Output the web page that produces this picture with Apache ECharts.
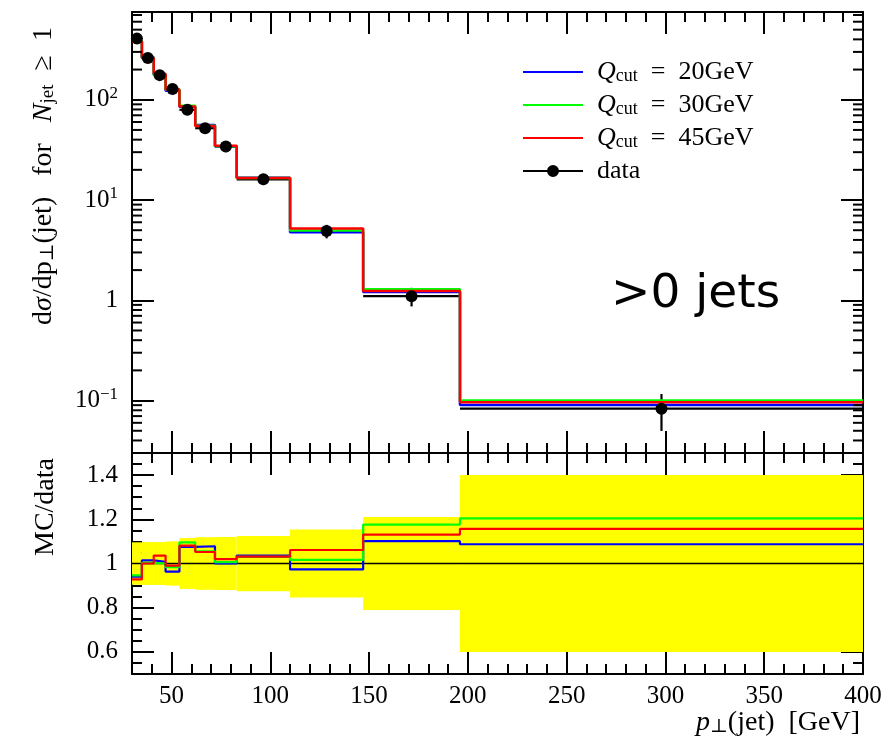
<!DOCTYPE html>
<html>
<head>
<meta charset="utf-8">
<title>pT(jet) for Njet >= 1</title>
<script src="https://cdn.jsdelivr.net/npm/echarts@6.0.0/dist/echarts.min.js"></script>
<style>
html, body { margin: 0; padding: 0; background: #fff; }
#chart { width: 894px; height: 747px; }
</style>
</head>
<body>
<div id="chart"></div>
<script>
// bin edges, pT [GeV]
const binEdges = [30, 35, 41, 47, 54, 62, 72, 83, 110, 147, 196, 400];

// data points and their relative uncertainty (yellow band)
const dataVals = [407, 261, 176, 128, 79.4, 52, 34.1, 16.1, 4.9, 1.10, 0.083];
const dataRelErr = [0.096, 0.097, 0.097, 0.10, 0.115, 0.119, 0.12, 0.125, 0.154, 0.21, 0.40];

// MC predictions, top panel
const mc20 = [383, 265, 177.5, 123, 85.3, 56, 34.1, 16.7, 4.77, 1.21, 0.0902];
const mc30 = [385, 262, 176, 126, 87, 54.9, 34.3, 16.6, 4.98, 1.29, 0.0999];
const mc45 = [378, 261, 182, 126.7, 85.8, 54.7, 34.8, 16.6, 5.2, 1.24, 0.096];

// MC/data, bottom panel
const ratio20 = [0.94, 1.014, 1.008, 0.963, 1.075, 1.078, 1.0, 1.036, 0.973, 1.101, 1.087];
const ratio30 = [0.946, 1.003, 1.0, 0.984, 1.096, 1.055, 1.006, 1.03, 1.016, 1.176, 1.204];
const ratio45 = [0.928, 1.0, 1.036, 0.99, 1.081, 1.052, 1.02, 1.031, 1.061, 1.131, 1.157];

const seriesNames = ['Q20', 'Q30', 'Q45'];
const legendLabels = {
    Q20: '{q|Q}{s|cut}{t|  =  20GeV}',
    Q30: '{q|Q}{s|cut}{t|  =  30GeV}',
    Q45: '{q|Q}{s|cut}{t|  =  45GeV}',
    data: '{d|data}'
};
const colors = ['#0000ff', '#00ff00', '#ff0000'];

const X0 = 30, X1 = 400;
const YMIN = 0.03, YMAX = 750;
const RMIN = 0.5, RMAX = 1.5;
const serif = "'Liberation Serif', 'DejaVu Serif', serif";
const black = { color: '#000', width: 2 };

function stepData(vals) {
    return binEdges.map((e, i) => [e, vals[Math.min(i, vals.length - 1)]]);
}

function xAx(grid, pos, major, labels) {
    const ax = {
        type: 'value', gridIndex: grid, position: pos, min: X0, max: X1,
        axisLine: { show: major, onZero: false, lineStyle: black },
        splitLine: { show: false },
        axisTick: { show: true, inside: true, length: major ? 22 : 10, lineStyle: black },
        axisLabel: {
            show: labels, margin: 10, color: '#000', fontFamily: serif, fontSize: 25,
            formatter: v => (v % 50 === 0 ? String(v) : '')
        }
    };
    if (major) { ax.minInterval = 50; ax.maxInterval = 50; } else { ax.interval = 10; }
    return ax;
}

function rAx(pos, major, labels) {
    const ax = {
        type: 'value', gridIndex: 1, position: pos, min: RMIN, max: RMAX,
        axisLine: { show: major, onZero: false, lineStyle: black },
        splitLine: { show: false },
        axisTick: { show: true, inside: true, length: major ? 22 : 10, lineStyle: black },
        axisLabel: {
            show: labels, margin: 14, color: '#000', fontFamily: serif, fontSize: 25,
            formatter: v => (Math.abs(v * 5 - Math.round(v * 5)) < 1e-6 && v > RMIN && v < RMAX ? String(+v.toFixed(1)) : '')
        }
    };
    if (major) { ax.minInterval = 0.2; ax.maxInterval = 0.2; } else { ax.interval = 0.05; }
    return ax;
}

function logLabel(v) {
    const l = Math.log10(v);
    const e = Math.round(l);
    if (Math.abs(l - e) > 1e-6) return '';
    if (e === 0) return '{m|1}';
    return '{m|10}{e|' + (e < 0 ? '\u2212' : '') + Math.abs(e) + '}';
}

function logAx(pos, labels) {
    return {
        type: 'log', logBase: 10, gridIndex: 0, position: pos, min: YMIN, max: YMAX,
        axisLine: { show: true, onZero: false, lineStyle: black },
        splitLine: { show: false },
        axisTick: { show: true, inside: true, length: 22, lineStyle: black },
        axisLabel: {
            show: labels, margin: 14, color: '#000', formatter: logLabel,
            rich: {
                m: { fontFamily: serif, fontSize: 25, lineHeight: 30, color: '#000' },
                e: { fontFamily: serif, fontSize: 17, lineHeight: 16, verticalAlign: 'top', color: '#000' }
            }
        }
    };
}

// minor log ticks 2..9 x 10^n
const minorLog = [];
for (let e = -2; e <= 2; e++) {
    for (let m = 2; m <= 9; m++) {
        const v = m * Math.pow(10, e);
        if (v > YMIN && v < YMAX) minorLog.push([X0, v]);
    }
}

const chart = echarts.init(document.getElementById('chart'));

const mcTop = [mc20, mc30, mc45];
const mcRatio = [ratio20, ratio30, ratio45];

const series = [];

// yellow band in ratio panel
series.push({
    type: 'custom', xAxisIndex: 5, yAxisIndex: 3, z: 1, silent: true,
    data: dataRelErr.map((err, i) => [binEdges[i], binEdges[i + 1], err]),
    renderItem: (params, api) => {
        const p0 = api.coord([api.value(0), 1 + api.value(2)]);
        const p1 = api.coord([api.value(1), 1 - api.value(2)]);
        return {
            type: 'rect',
            shape: { x: p0[0], y: p0[1], width: p1[0] - p0[0], height: p1[1] - p0[1] },
            style: { fill: '#ffff00' }
        };
    }
});

// reference line at 1
series.push({
    type: 'line', xAxisIndex: 5, yAxisIndex: 3, z: 2, symbol: 'none', silent: true,
    data: [[X0, 1], [X1, 1]],
    lineStyle: { color: '#000', width: 1.6 }
});

// data x-error bars and y-error bars
series.push({
    type: 'custom', xAxisIndex: 1, yAxisIndex: 0, z: 2, silent: true,
    data: dataVals.map((v, i) => [binEdges[i], binEdges[i + 1], v, dataRelErr[i]]),
    renderItem: (params, api) => {
        const x0 = api.value(0), x1 = api.value(1), v = api.value(2), err = api.value(3);
        const a = api.coord([x0, v]);
        const b = api.coord([x1, v]);
        const hi = api.coord([(x0 + x1) / 2, v * (1 + err)]);
        const lo = api.coord([(x0 + x1) / 2, v * (1 - err)]);
        return {
            type: 'group',
            children: [
                { type: 'line', shape: { x1: a[0], y1: a[1], x2: b[0], y2: b[1] }, style: { stroke: '#000', lineWidth: 2.2 } },
                { type: 'line', shape: { x1: hi[0], y1: hi[1], x2: lo[0], y2: lo[1] }, style: { stroke: '#000', lineWidth: 2.2 } }
            ]
        };
    }
});

// minor log ticks on both sides of the top panel
series.push({
    type: 'custom', xAxisIndex: 1, yAxisIndex: 0, z: 10, silent: true,
    data: minorLog,
    renderItem: (params, api) => {
        const v = api.value(1);
        const l = api.coord([X0, v]);
        const r = api.coord([X1, v]);
        return {
            type: 'group',
            children: [
                { type: 'line', shape: { x1: l[0], y1: l[1], x2: l[0] + 10, y2: l[1] }, style: { stroke: '#000', lineWidth: 2 } },
                { type: 'line', shape: { x1: r[0], y1: r[1], x2: r[0] - 10, y2: r[1] }, style: { stroke: '#000', lineWidth: 2 } }
            ]
        };
    }
});

// MC histograms
for (let k = 0; k < 3; k++) {
    series.push({
        name: seriesNames[k], type: 'line', step: 'end', xAxisIndex: 1, yAxisIndex: 0, z: 3 + k,
        symbol: 'none', silent: true, data: stepData(mcTop[k]),
        itemStyle: { color: colors[k] },
        lineStyle: { color: colors[k], width: 2.5 }
    });
    series.push({
        name: seriesNames[k], type: 'line', step: 'end', xAxisIndex: 5, yAxisIndex: 3, z: 3 + k,
        symbol: 'none', silent: true, data: stepData(mcRatio[k]),
        itemStyle: { color: colors[k] },
        lineStyle: { color: colors[k], width: 2.2 }
    });
}

// data points
series.push({
    name: 'data', type: 'scatter', xAxisIndex: 1, yAxisIndex: 0, z: 8, silent: true,
    symbol: 'circle', symbolSize: 12,
    itemStyle: { color: '#000', opacity: 1 },
    data: dataVals.map((v, i) => [(binEdges[i] + binEdges[i + 1]) / 2, v])
});

// legend icons, 60x12 boxes (tiny corner marks fix the bounding box)
const lineIcon = 'path://M0,0 L0.01,0 L0,0.01 Z M0,5 L60,5 L60,7 L0,7 Z M60,12 L59.99,12 L60,11.99 Z';
const dataIcon = 'path://M0,5 L60,5 L60,7 L0,7 Z M30,0 A6,6 0 1 1 30,12 A6,6 0 1 1 30,0 Z';

chart.setOption({
    animation: false,
    backgroundColor: '#fff',
    grid: [
        { left: 132, top: 12, width: 731, height: 441 },
        { left: 132, top: 453, width: 731, height: 221 }
    ],
    xAxis: [
        xAx(0, 'bottom', false, false),
        xAx(0, 'bottom', true, false),
        xAx(0, 'top', false, false),
        xAx(0, 'top', true, false),
        xAx(1, 'bottom', false, false),
        xAx(1, 'bottom', true, true),
        xAx(1, 'top', false, false),
        xAx(1, 'top', true, false)
    ],
    yAxis: [
        logAx('left', true),
        logAx('right', false),
        rAx('left', false, false),
        rAx('left', true, true),
        rAx('right', false, false),
        rAx('right', true, false)
    ],
    legend: {
        orient: 'vertical', left: 523, top: 59, padding: 0,
        itemWidth: 60, itemHeight: 12, itemGap: 7,
        selectedMode: false,
        data: [
            { name: 'Q20', icon: lineIcon, itemStyle: { color: colors[0] } },
            { name: 'Q30', icon: lineIcon, itemStyle: { color: colors[1] } },
            { name: 'Q45', icon: lineIcon, itemStyle: { color: colors[2] } },
            { name: 'data', icon: dataIcon, itemStyle: { color: '#000' } }
        ],
        formatter: n => legendLabels[n],
        textStyle: {
            color: '#000', fontFamily: serif, fontSize: 26,
            rich: {
                q: { fontFamily: serif, fontSize: 26, fontStyle: 'italic', lineHeight: 26, padding: [0, 0, 0, 9], color: '#000' },
                s: { fontFamily: serif, fontSize: 18, lineHeight: 13, verticalAlign: 'bottom', color: '#000' },
                t: { fontFamily: serif, fontSize: 26, lineHeight: 26, color: '#000' },
                d: { fontFamily: serif, fontSize: 26, lineHeight: 26, padding: [0, 0, 0, 9], color: '#000' }
            }
        }
    },
    graphic: [
        {
            type: 'text', x: 44, y: 176, rotation: Math.PI / 2, silent: true,
            style: {
                text: '{r|d}{i|\u03c3}{r|/dp}{s|\u22a5}{r|(jet)   for   }{i|N}{s|jet}{r|  \u2265  1}',
                textAlign: 'center', align: 'center', textVerticalAlign: 'middle', verticalAlign: 'middle',
                rich: {
                    r: { fontFamily: serif, fontSize: 28, lineHeight: 28, fill: '#000', color: '#000' },
                    i: { fontFamily: serif, fontSize: 28, lineHeight: 28, fontStyle: 'italic', fill: '#000', color: '#000' },
                    s: { fontFamily: serif, fontSize: 19, lineHeight: 14, verticalAlign: 'bottom', fill: '#000', color: '#000' }
                }
            }
        },
        {
            type: 'text', x: 46, y: 507, rotation: Math.PI / 2, silent: true,
            style: {
                text: 'MC/data', fontFamily: serif, fontSize: 28, fill: '#000',
                textAlign: 'center', align: 'center', textVerticalAlign: 'middle', verticalAlign: 'middle'
            }
        },
        {
            type: 'text', x: 860, y: 723, silent: true,
            style: {
                text: '{i|p}{s|\u22a5}{r|(jet)  [GeV]}',
                textAlign: 'right', align: 'right', textVerticalAlign: 'middle', verticalAlign: 'middle',
                rich: {
                    r: { fontFamily: serif, fontSize: 28, lineHeight: 28, fill: '#000', color: '#000' },
                    i: { fontFamily: serif, fontSize: 28, lineHeight: 28, fontStyle: 'italic', fill: '#000', color: '#000' },
                    s: { fontFamily: serif, fontSize: 19, lineHeight: 14, verticalAlign: 'bottom', fill: '#000', color: '#000' }
                }
            }
        },
        {
            type: 'text', x: 611, y: 295, silent: true,
            style: {
                text: '>0 jets', fontFamily: "'DejaVu Sans', sans-serif", fontSize: 47, fill: '#000',
                textAlign: 'left', align: 'left', textVerticalAlign: 'middle', verticalAlign: 'middle'
            }
        }
    ],
    series: series
});
</script>
</body>
</html>
